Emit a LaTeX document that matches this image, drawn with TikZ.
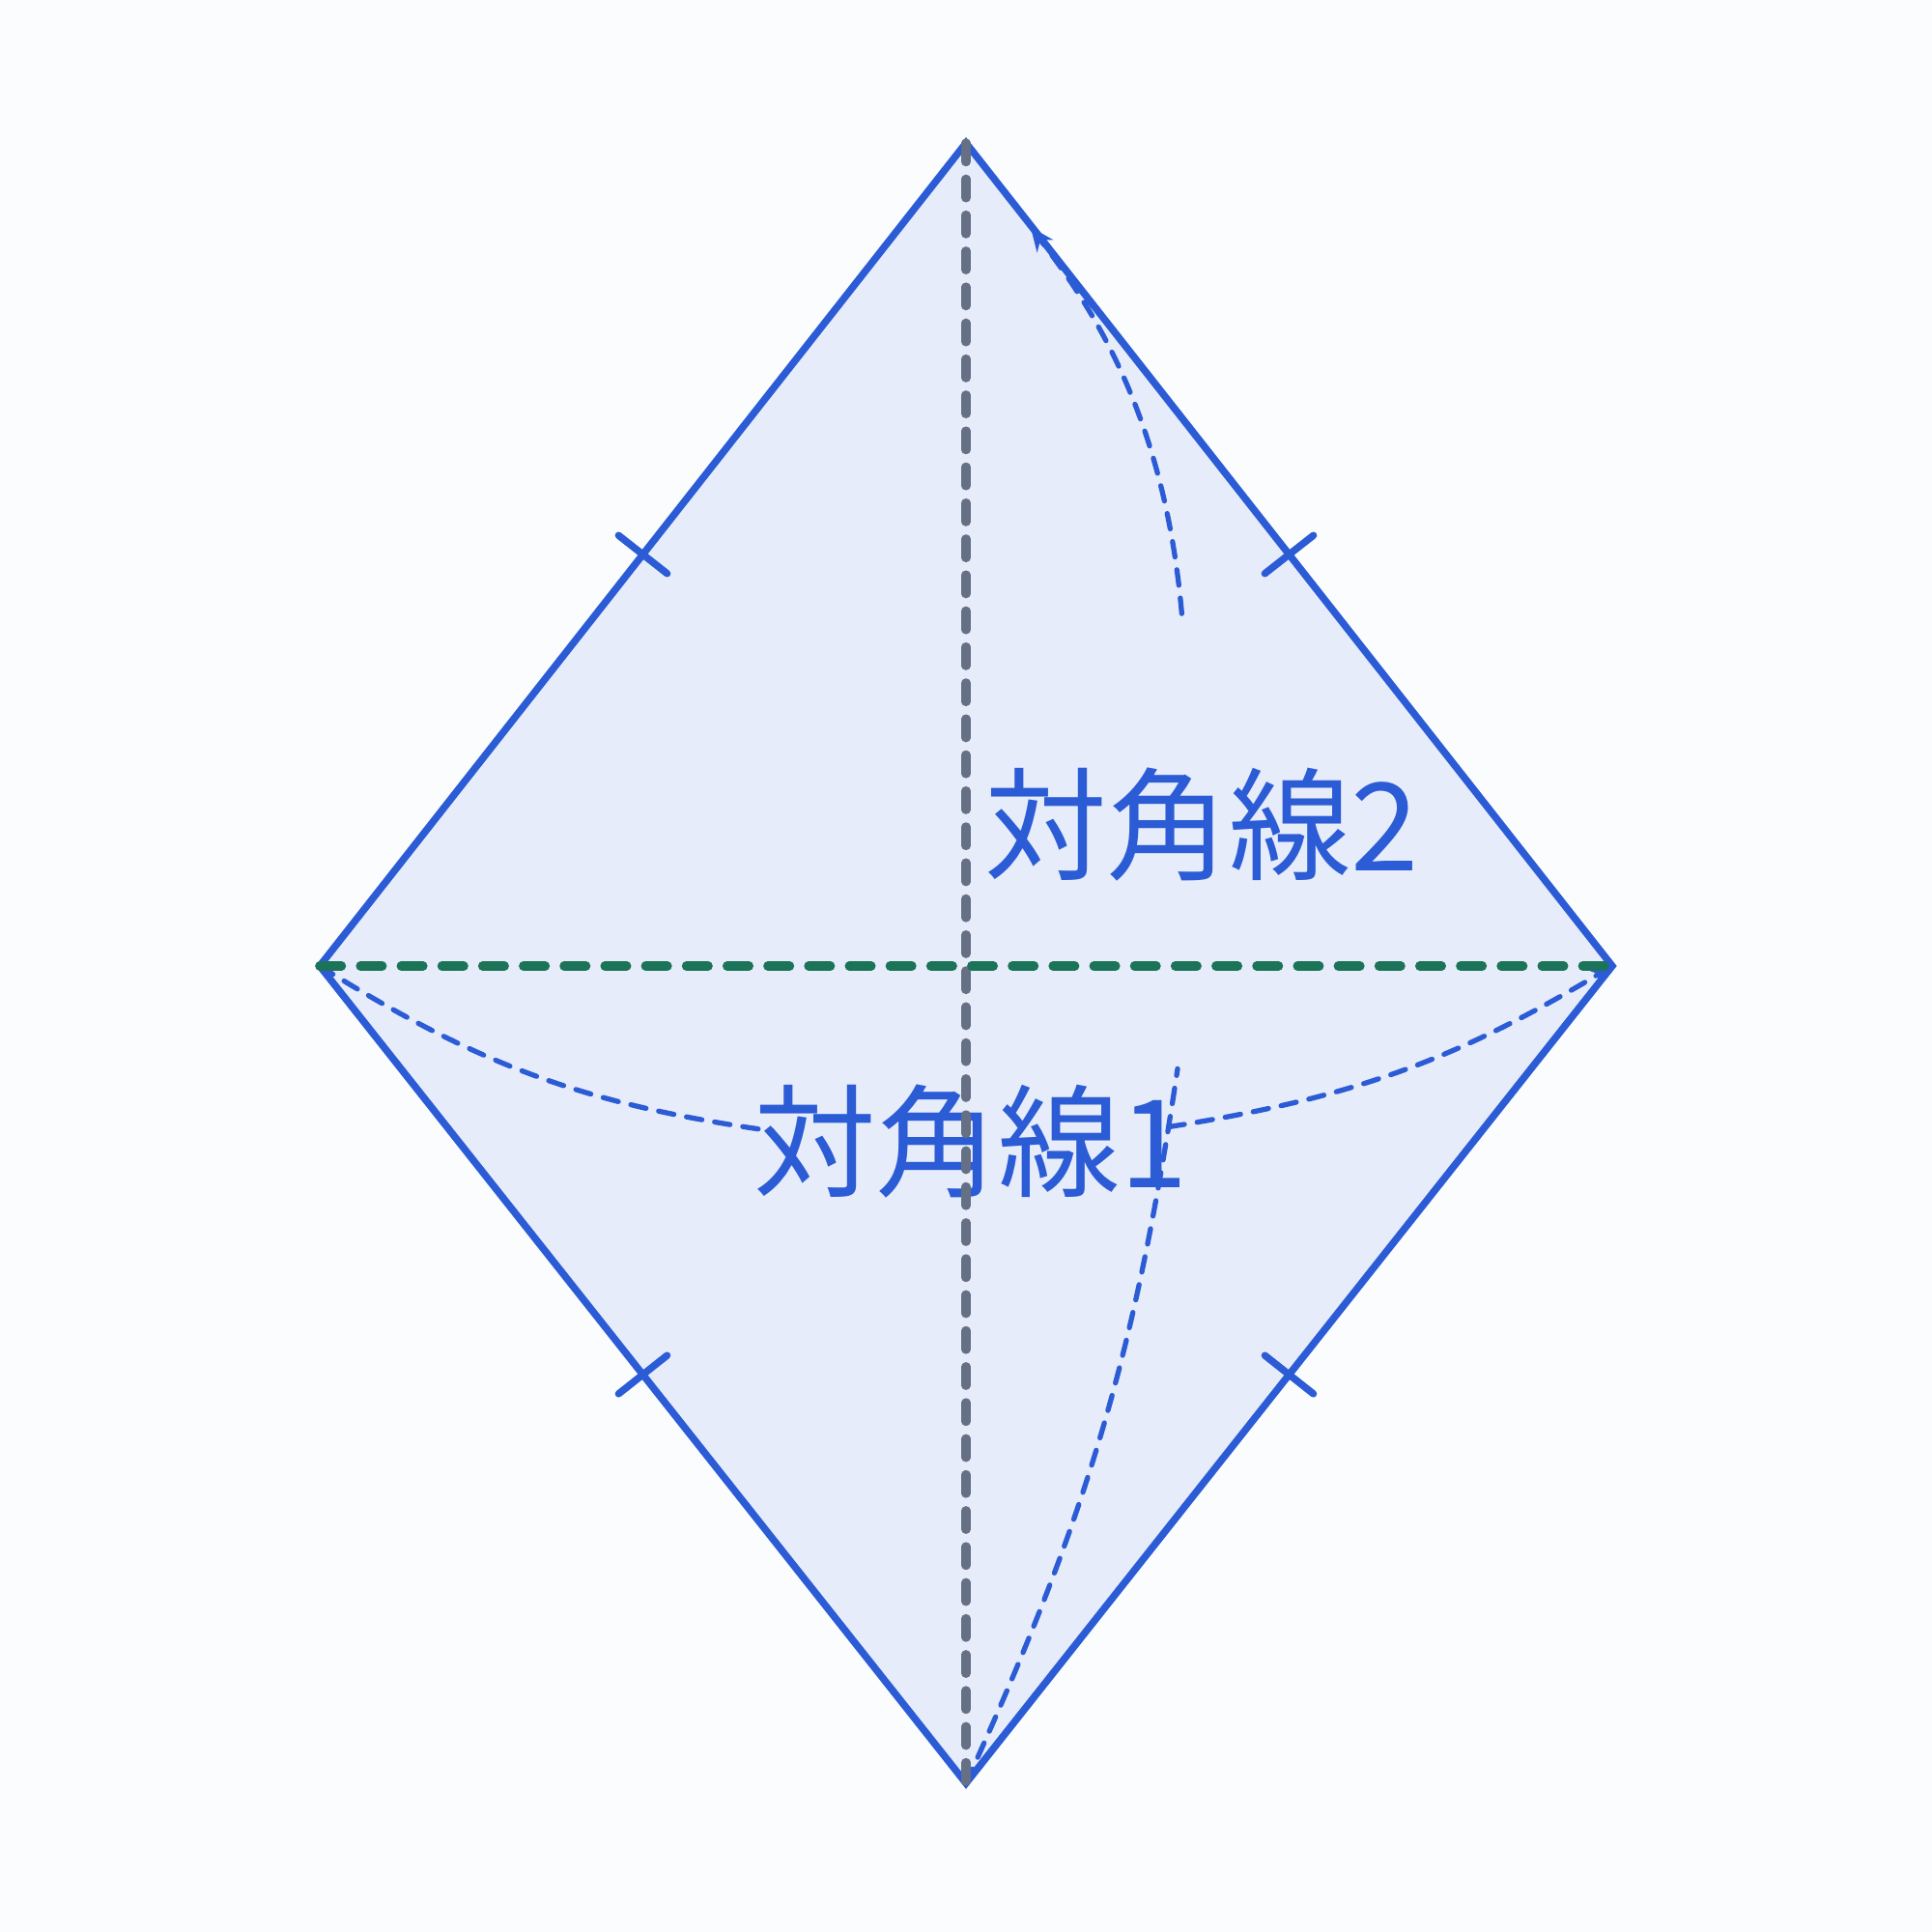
\documentclass[tikz,border=0pt]{standalone}
\usepackage{fontspec}
\newfontfamily\jpfont{Noto Sans CJK JP}
\usetikzlibrary{calc,arrows.meta}
\definecolor{rhombBlue}{RGB}{43,92,214}
\definecolor{rhombFill}{RGB}{230,236,250}
\definecolor{rhombGray}{RGB}{102,112,133}
\definecolor{rhombGreen}{RGB}{27,115,88}
\definecolor{rhombBack}{RGB}{251,252,254}

\begin{document}
\begin{tikzpicture}[
    rhEdge/.style={draw=rhombBlue, line width=2.1pt, line join=miter},
    eqMark/.style={draw=rhombBlue, line width=2.1pt, line cap=round},
    diagGray/.style={draw=rhombGray, line width=2.6pt, line cap=round, dash pattern=on 5.6pt off 5pt},
    diagGreen/.style={draw=rhombGreen, line width=2.7pt, line cap=round, dash pattern=on 6.4pt off 5.6pt},
    guide/.style={draw=rhombBlue, line width=1.5pt, line cap=round, dash pattern=on 4.6pt off 3.8pt},
    lbl/.style={circle, minimum size=4.1cm, inner sep=0pt, text=rhombBlue, font=\jpfont\fontsize{36}{40}\selectfont}
]
    \fill[rhombBack] (-10,-10) rectangle (10,10);
    \coordinate (T) at (0,8.52);
    \coordinate (R) at (6.69,0);
    \coordinate (B) at (0,-8.46);
    \coordinate (L) at (-6.69,0);
    \fill[rhombFill] (T) -- (R) -- (B) -- (L) -- cycle;

    % labels of the two diagonals
    \node[lbl] (d1) at (0.05,-1.82) {\makebox[0pt]{対角線1}};
    \node[lbl, minimum size=4.72cm, text depth=13pt] (d2) at (2.44,1.29) {\makebox[0pt]{対角線2}};

    % curved guides
    \draw[guide] (L) to[bend right=12] (d1);
    \draw[guide, -{Stealth[length=7pt, width=6pt]}] (d1) to[bend right=11] (R);
    \draw[guide] (B) to[bend right=8] (d2);
    \draw[guide, -{Stealth[length=7pt, width=6pt]}, shorten >=1.1cm] (d2) to[out=95, in=-52.5] (T);

    % sides and equal marks
    \draw[rhEdge] (T) -- (R) -- (B) -- (L) -- cycle;
    \foreach \a/\b in {L/T, T/R, R/B, B/L}
        \draw[eqMark] ($(\a)!0.5!(\b)!0.32cm!90:(\b)$) -- ($(\a)!0.5!(\b)!0.32cm!-90:(\b)$);

    % diagonals
    \draw[diagGray] (T) -- (B);
    \draw[diagGreen] (L) -- (R);
\end{tikzpicture}
\end{document}
